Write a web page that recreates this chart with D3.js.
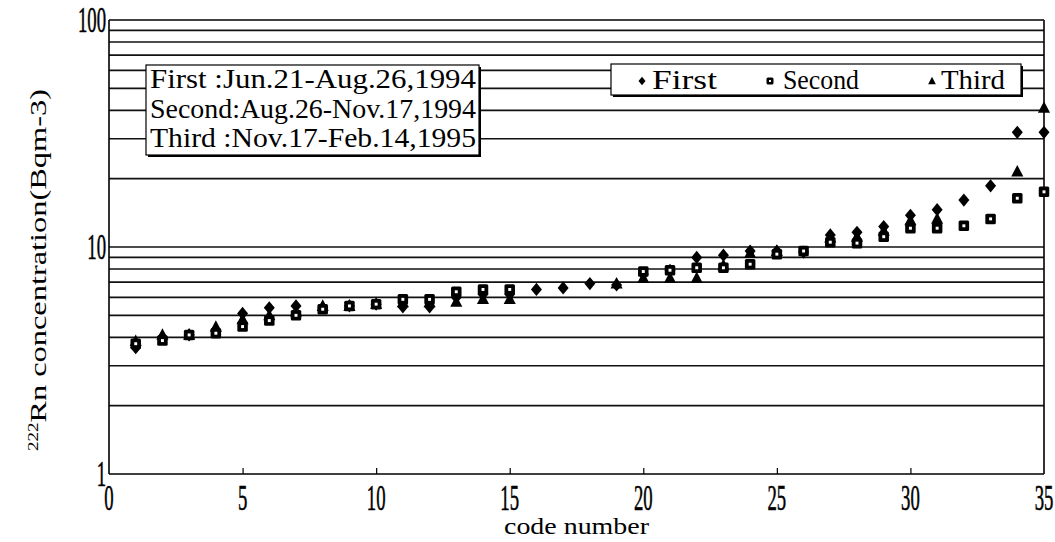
<!DOCTYPE html>
<html><head><meta charset="utf-8">
<script src="https://cdn.jsdelivr.net/npm/d3@7"></script>
<style>
html,body{margin:0;padding:0;background:#fff;}
svg{display:block;}
text{font-family:"Liberation Serif","DejaVu Serif",serif;fill:#000;}
</style></head>
<body>
<svg id="chart" width="1055" height="542"></svg>
<script>
const codes = d3.range(1, 36);
const firstVals  = [3.6,4.0,4.1,4.3,5.1,5.4,5.5,5.4,5.5,5.6,5.45,5.45,6.0,6.2,6.2,6.5,6.6,6.9,6.8,7.6,7.9,9.0,9.2,9.6,9.6,9.5,11.3,11.6,12.3,13.8,14.6,16.1,18.6,32,32];
const secondVals = [3.75,3.87,4.1,4.17,4.46,4.74,5.0,5.32,5.5,5.6,5.88,5.88,6.35,6.5,6.5,null,null,null,null,7.8,7.9,8.1,8.1,8.4,9.3,9.6,10.5,10.4,11.1,12.1,12.1,12.4,13.3,16.4,17.5];
const thirdVals  = [3.85,4.1,4.1,4.45,4.8,5.0,5.2,5.5,5.5,5.6,5.7,5.7,5.74,5.9,5.9,null,null,null,6.9,7.3,7.3,7.3,8.3,9.4,9.6,null,11.0,11.1,11.8,13.1,13.3,null,null,21.5,41];
const seriesNames = ["First","Second","Third"];
const xTicks = [0,5,10,15,20,25,30,35];
const yTickLabels = [1,10,100];
const gridVals = [2,3,4,5,6,7,8,9,10,20,30,40,50,60,70,80,90];
const periodLines = ["First :Jun.21-Aug.26,1994","Second:Aug.26-Nov.17,1994","Third :Nov.17-Feb.14,1995"];

const svg = d3.select("#chart");
const x = d3.scaleLinear().domain([0,35]).range([109,1044]);
const y = d3.scaleLog().domain([1,100]).range([474,20]);
const SX = 0.52; // horizontal condensing of numerals

// grid lines
svg.append("g").selectAll("line").data(gridVals).join("line")
  .attr("x1", x(0)).attr("x2", x(35))
  .attr("y1", d=>y(d)).attr("y2", d=>y(d))
  .attr("stroke","#111").attr("stroke-width",1.6);

// frame
const fr = svg.append("g").attr("stroke","#000").attr("stroke-width",1.6).attr("fill","none");
fr.append("line").attr("x1",x(0)).attr("x2",x(35)).attr("y1",y(100)).attr("y2",y(100));
fr.append("line").attr("x1",x(0)).attr("x2",x(35)).attr("y1",y(1)).attr("y2",y(1));
fr.append("line").attr("x1",x(0)).attr("x2",x(0)).attr("y1",y(100)).attr("y2",y(1));
fr.append("line").attr("x1",x(35)).attr("x2",x(35)).attr("y1",y(100)).attr("y2",y(1));

// x axis ticks (inward), labels drawn separately
const xAxis = d3.axisBottom(x).tickValues(xTicks).tickSize(-6).tickFormat("");
const gx = svg.append("g").attr("transform",`translate(0,${y(1)})`).call(xAxis);
gx.select(".domain").remove();
gx.selectAll(".tick line").attr("stroke","#000").attr("stroke-width",1.2)
  .attr("opacity", d => (d===0||d===35)?0:1);

svg.append("g").selectAll("text").data(xTicks).join("text")
  .attr("transform", d => `translate(${x(d)},510) scale(${SX},1)`)
  .attr("text-anchor","middle").attr("font-size",36)
  .attr("stroke","#000").attr("stroke-width",0.6).text(d3.format("d"));

svg.append("g").selectAll("text").data(yTickLabels).join("text")
  .attr("transform", d => `translate(106,${y(d)+12}) scale(${SX},1)`)
  .attr("text-anchor","end").attr("font-size",36)
  .attr("stroke","#000").attr("stroke-width",0.6).text(d3.format("d"));

// axis titles
svg.append("text").attr("x",(x(0)+x(35))/2).attr("y",534).attr("text-anchor","middle")
  .attr("font-size",24).attr("textLength",145).attr("lengthAdjust","spacingAndGlyphs").text("code number");

const yt = svg.append("text").attr("transform","translate(46,270) rotate(-90)").attr("text-anchor","middle")
  .attr("font-size",24);
yt.append("tspan").attr("font-size",14).attr("dy",-8).text("222");
yt.append("tspan").attr("dy",8).text("Rn concentration(Bqm-3)");
yt.attr("textLength", 362).attr("lengthAdjust","spacingAndGlyphs");

// marker drawers
function diamond(g, s){ g.append("path").attr("d",`M0,${-s*0.6}L${s*0.5},0L0,${s*0.6}L${-s*0.5},0Z`).attr("fill","#000"); }
function triangle(g, s){ g.append("path").attr("d",`M0,${-s*0.6}L${s*0.55},${s*0.45}L${-s*0.55},${s*0.45}Z`).attr("fill","#000"); }
function square(g, s){
  g.append("rect").attr("x",-s/2).attr("y",-s/2).attr("width",s).attr("height",s).attr("rx",1.5).attr("fill","#000");
  g.append("rect").attr("x",-s*0.14).attr("y",-s*0.14).attr("width",s*0.28).attr("height",s*0.28).attr("fill","#fff");
}
const drawers = {First: diamond, Second: square, Third: triangle};
const seriesData = {First: firstVals, Second: secondVals, Third: thirdVals};

["First","Third","Second"].forEach(name => {
  const vals = seriesData[name];
  const pts = codes.map((c,i)=>({c, v: vals[i]})).filter(d=>d.v!=null);
  const g = svg.append("g");
  pts.forEach(p => {
    const m = g.append("g").attr("transform",`translate(${x(p.c)},${y(p.v)})`);
    drawers[name](m, name==="Second"?10.5:11);
  });
});

// legend box
const lg = svg.append("g");
lg.append("rect").attr("x",613).attr("y",66).attr("width",410).attr("height",31).attr("fill","#000");
lg.append("rect").attr("x",611).attr("y",64).attr("width",410).attr("height",31).attr("fill","#fff").attr("stroke","#000").attr("stroke-width",1.2);
const legX = [[642,652],[770,783],[932,941]];
seriesNames.forEach((n,i)=>{
  const m = lg.append("g").attr("transform",`translate(${legX[i][0]},81)`);
  drawers[n](m, 7);
  lg.append("text").attr("x",legX[i][1]).attr("y",89).attr("font-size",27).text(n)
    .attr("textLength",[65,76,64][i]).attr("lengthAdjust","spacingAndGlyphs");
});

// period annotation box
const pb = svg.append("g");
pb.append("rect").attr("x",148).attr("y",67).attr("width",333).attr("height",90).attr("fill","#000");
pb.append("rect").attr("x",146).attr("y",65).attr("width",333).attr("height",90).attr("fill","#fff").attr("stroke","#000").attr("stroke-width",1.2);
periodLines.forEach((t,i)=>{
  pb.append("text").attr("x",150).attr("y",88+i*29.5).attr("font-size",27).text(t)
    .attr("textLength",326).attr("lengthAdjust","spacingAndGlyphs");
});
</script>
</body></html>
